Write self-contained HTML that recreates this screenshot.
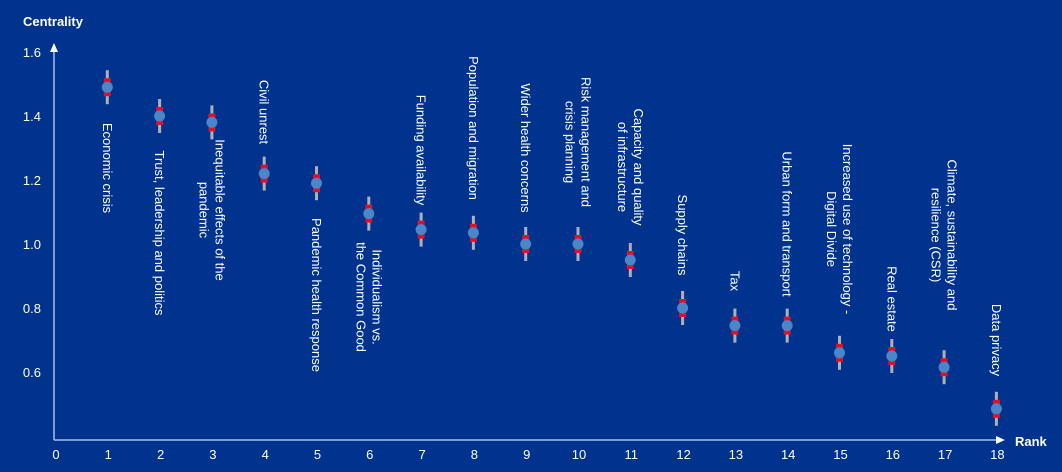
<!DOCTYPE html>
<html><head><meta charset="utf-8"><style>
html,body{margin:0;padding:0;background:#00338d;}
svg{display:block;font-family:"Liberation Sans",Arial,sans-serif;}
</style></head><body>
<svg width="1062" height="472" viewBox="0 0 1062 472">
<rect width="1062" height="472" fill="#00338d"/>
<g fill="#fff" font-size="13">
<text x="23" y="26" font-weight="bold">Centrality</text>
<text x="1015" y="446" font-weight="bold">Rank</text>
<g text-anchor="end">
<text x="41" y="57">1.6</text><text x="41" y="121">1.4</text><text x="41" y="185">1.2</text>
<text x="41" y="249">1.0</text><text x="41" y="313">0.8</text><text x="41" y="377">0.6</text>
</g>
<g text-anchor="middle" id="xt"></g>
</g>
<g stroke="#a9bdf0" stroke-width="1.5" fill="none">
<line x1="54" y1="440" x2="54" y2="50"/>
<line x1="54" y1="440" x2="998" y2="440"/>
</g>
<polygon points="54,43 50,52 58,52" fill="#fff"/>
<polygon points="1005,440 996,436 996,444" fill="#fff"/>
<g id="pts"></g>
<g id="lbl" fill="#fff" font-size="13" text-anchor="middle" dominant-baseline="central"></g>
</svg>
<script>
var ns="http://www.w3.org/2000/svg";
function X(k){return 55+52.3*k;}
function Y(v){return 244-(v-1)*320;}
var xt=document.getElementById('xt');
for(var k=0;k<=18;k++){var t=document.createElementNS(ns,'text');t.setAttribute('x',X(k)+1);t.setAttribute('y',459);t.textContent=k;xt.appendChild(t);}
var vals=[1.49,1.40,1.38,1.22,1.19,1.095,1.045,1.035,1.0,1.0,0.95,0.80,0.745,0.745,0.66,0.65,0.615,0.485];
var g=document.getElementById('pts');
vals.forEach(function(v,i){var x=X(i+1),y=Y(v);
 g.innerHTML+='<line x1="'+x+'" x2="'+x+'" y1="'+(y-17)+'" y2="'+(y+17)+'" stroke="#b0b0b8" stroke-width="3"/>'+
 '<line x1="'+x+'" x2="'+x+'" y1="'+(y-9)+'" y2="'+(y+9)+'" stroke="#e0102a" stroke-width="7"/>'+
 '<circle cx="'+x+'" cy="'+y+'" r="5.5" fill="#4a86c8"/>';});
var L=[[["Economic crisis"],168],[["Trust, leadership and politics"],233],[["Inequitable effects of the","pandemic"],210],
[["Civil unrest"],112],[["Pandemic health response"],295],[["Individualism vs.","the Common Good"],297],
[["Funding availability"],150],[["Population and migration"],128],[["Wider health concerns"],148],
[["Risk management and","crisis planning"],142],[["Capacity and quality","of infrastructure"],167],
[["Supply chains"],235],[["Tax"],281],[["Urban form and transport"],224],
[["Increased use of technology -","Digital Divide"],229],[["Real estate"],299],
[["Climate, sustainability and","resilience (CSR)"],235],[["Data privacy"],340]];
var lg=document.getElementById('lbl');
L.forEach(function(l,i){var x=X(i+1)+(l[0].length>1?8:0);
 l[0].forEach(function(s,j){var t=document.createElementNS(ns,'text');
  var cx=x-j*16;t.setAttribute('transform','translate('+cx+','+l[1]+') rotate(90)');t.textContent=s;lg.appendChild(t);});});
</script>
</body></html>
